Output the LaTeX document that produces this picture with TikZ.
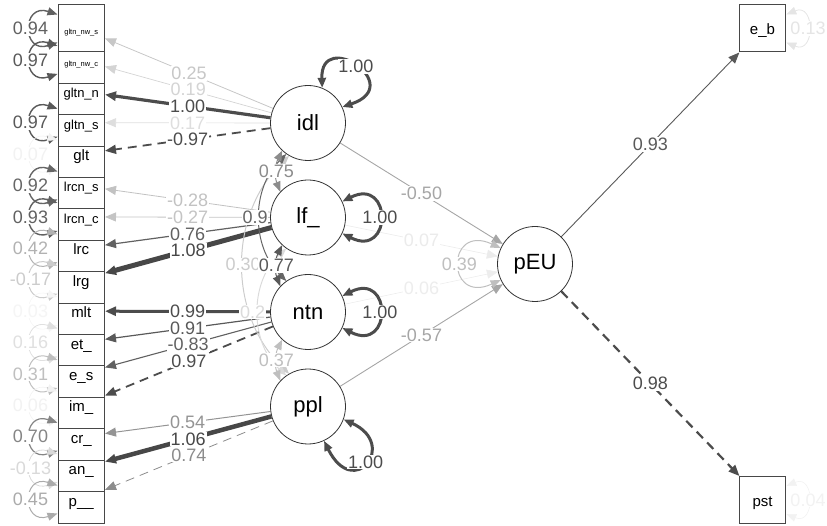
\documentclass[tikz,border=0pt]{standalone}
\usepackage{fontspec}
\setmainfont{Liberation Sans}
\usetikzlibrary{arrows.meta}
\pgfdeclarelayer{edges}
\pgfsetlayers{edges,main}

\newcommand{\fs}[1]{\fontsize{#1}{#1}\selectfont}

% loadings and regressions: source/target/colour/width/dash/estimate
\def\pathlist{%
idl/ind1/black!22/0.8pt/solid/0.25,
idl/ind2/black!17/0.7pt/solid/0.19,
idl/ind3/black!70/3.2pt/solid/1.00,
idl/ind4/black!13/0.7pt/solid/0.17,
idl/ind5/black!70/1.8pt/dsh/-0.97,
lf/ind6/black!24/0.8pt/solid/-0.28,
lf/ind7/black!23/0.8pt/solid/-0.27,
lf/ind8/black!62/1.2pt/solid/0.76,
lf/ind9/black!72/5pt/solid/1.08,
ntn/ind10/black!70/3pt/solid/0.99,
ntn/ind11/black!65/1.2pt/solid/0.91,
ntn/ind12/black!62/1.1pt/solid/-0.83,
ntn/ind13/black!70/1.8pt/dsh/0.97,
ppl/ind14/black!42/1pt/solid/0.54,
ppl/ind15/black!72/4.5pt/solid/1.06,
ppl/ind16/black!45/0.8pt/dsh/0.74,
idl/pEU/black!35/0.9pt/solid/-0.50,
lf/pEU/black!8/0.6pt/solid/0.07,
ntn/pEU/black!7/0.6pt/solid/0.06,
ppl/pEU/black!35/0.9pt/solid/-0.57,
pEU/eb/black!65/0.9pt/solid/0.93,
pEU/pst/black!70/2.2pt/dsh/0.98}

% latent covariances: source/target/out anchor/in anchor/bend/colour/estimate/shift
\def\covlist{%
idl/ppl/240/120/46/black!20/0.30/0pt,
idl/ntn/235/125/45/black!60/0.9/-5pt,
lf/ppl/235/125/48/black!14/0.2/-6pt,
idl/lf/227/137/24/black!45/0.75/0pt,
lf/ntn/227/137/24/black!65/0.77/0pt,
ntn/ppl/227/137/24/black!25/0.37/0pt}

% residual variances: indicator/colour/width/estimate
\def\reslist{%
1/black!62/1.4pt/0.94,
2/black!65/1.4pt/0.97,
4/black!65/1.4pt/0.97,
5/black!5/0.6pt/0.07,
6/black!60/1.4pt/0.92,
7/black!62/1.4pt/0.93,
8/black!30/1pt/0.42,
9/black!20/1pt/-0.17,
10/black!4/0.6pt/0.03,
11/black!12/0.8pt/0.16,
12/black!25/1pt/0.31,
13/black!5/0.6pt/0.06,
14/black!48/1.2pt/0.70,
15/black!15/0.8pt/-0.13,
16/black!33/1pt/0.45}

\begin{document}
\begin{tikzpicture}[
    x=1pt, y=1pt,
    mvar/.style={rectangle, draw=black!72, fill=white, line width=1pt, minimum width=46.5pt, minimum height=47pt, inner sep=0pt, text height=14pt, text depth=1pt},
    lvar/.style={circle, draw=black!80, fill=white, line width=0.8pt, minimum size=75pt, inner sep=0pt, font=\fs{22}},
    onehead/.style={-{Triangle[length=11pt,width=9pt]}},
    twohead/.style={{Triangle[length=10pt,width=8pt]}-{Triangle[length=10pt,width=8pt]}},
    dsh/.style={dash pattern=on 9pt off 6pt},
    elab/.style={fill=white, inner sep=0.8pt, font=\fs{18}}
]
    \useasboundingbox (0,0) rectangle (827,-526);

    % Indicators, bottom-up so each box lies over the one below
    \foreach \i/\txt/\sz in {16/p\_\_/15, 15/an\_/15, 14/cr\_/15, 13/im\_/15,
        12/e\_s/15, 11/et\_/15, 10/mlt/15, 9/lrg/15, 8/lrc/15, 7/lrcn\_c/13,
        6/lrcn\_s/13, 5/glt/15, 4/gltn\_s/13, 3/gltn\_n/13, 2/gltn\_nw\_c/7.5,
        1/gltn\_nw\_s/7.5}
        \node[mvar, font=\fs{\sz}] (ind\i) at (81.25,{-28.5-31.4*(\i-1)}) {\txt};

    % Latent factors
    \node[lvar] (idl) at (308,-123) {idl};
    \node[lvar] (lf) at (308,-217.5) {lf\_};
    \node[lvar] (ntn) at (308,-312) {ntn};
    \node[lvar] (ppl) at (308,-406.5) {ppl};
    \node[lvar] (pEU) at (535,-264) {pEU};

    % Outcomes
    \node[mvar, font=\fs{15}] (eb) at (762.5,-28.5) {e\_b};
    \node[mvar, font=\fs{15}] (pst) at (762.5,-500) {pst};

    \begin{pgfonlayer}{edges}
        \foreach \src/\dst/\col/\lw/\sty/\val in \pathlist
            \draw[onehead, color=\col, line width=\lw, \sty] (\src) -- (\dst);
        \foreach \src/\dst/\ao/\ai/\bd/\col/\val/\xs in \covlist
            \draw[twohead, color=\col, line width=1pt] (\src.\ao) to[bend right=\bd] (\dst.\ai);

        % Variances of the latents
        \draw[twohead, black!70, line width=3pt] (idl.68) .. controls +(-2,60) and +(65,22) .. node[elab]{1.00} (idl.25);
        \draw[twohead, black!70, line width=3pt] (lf.25) .. controls +(50,25) and +(50,-25) .. node[elab]{1.00} (lf.-25);
        \draw[twohead, black!70, line width=3pt] (ntn.25) .. controls +(50,25) and +(50,-25) .. node[elab]{1.00} (ntn.-25);
        \draw[twohead, black!70, line width=3pt] (ppl.-20) .. controls +(55,-25) and +(30,-60) .. node[elab]{1.00} (ppl.-65);
        \draw[twohead, black!25, line width=1pt] (pEU.155) .. controls +(-55,25) and +(-55,-25) .. node[elab]{0.39} (pEU.205);

        % Residual variances
        \foreach \i/\col/\lw/\val in \reslist
            \draw[twohead, color=\col, line width=\lw] ([yshift=14pt]ind\i.west) .. controls +(-36,12) and +(-36,-12) .. node[elab, text=\col]{\val} ([yshift=-14pt]ind\i.west);
        \draw[twohead, black!10, line width=0.8pt] ([yshift=14pt]eb.east) .. controls +(29,12) and +(29,-12) .. node[elab]{0.13} ([yshift=-14pt]eb.east);
        \draw[twohead, black!5, line width=0.6pt] ([yshift=14pt]pst.east) .. controls +(29,12) and +(29,-12) .. node[elab]{0.04} ([yshift=-14pt]pst.east);

        % Estimates on top of the lines
        \foreach \src/\dst/\col/\lw/\sty/\val in \pathlist
            \path (\src) -- node[elab, text=\col]{\val} (\dst);
        \foreach \src/\dst/\ao/\ai/\bd/\col/\val/\xs in \covlist
            \path (\src.\ao) to[bend right=\bd] node[elab, text=\col, xshift=\xs]{\val} (\dst.\ai);
    \end{pgfonlayer}
\end{tikzpicture}
\end{document}
